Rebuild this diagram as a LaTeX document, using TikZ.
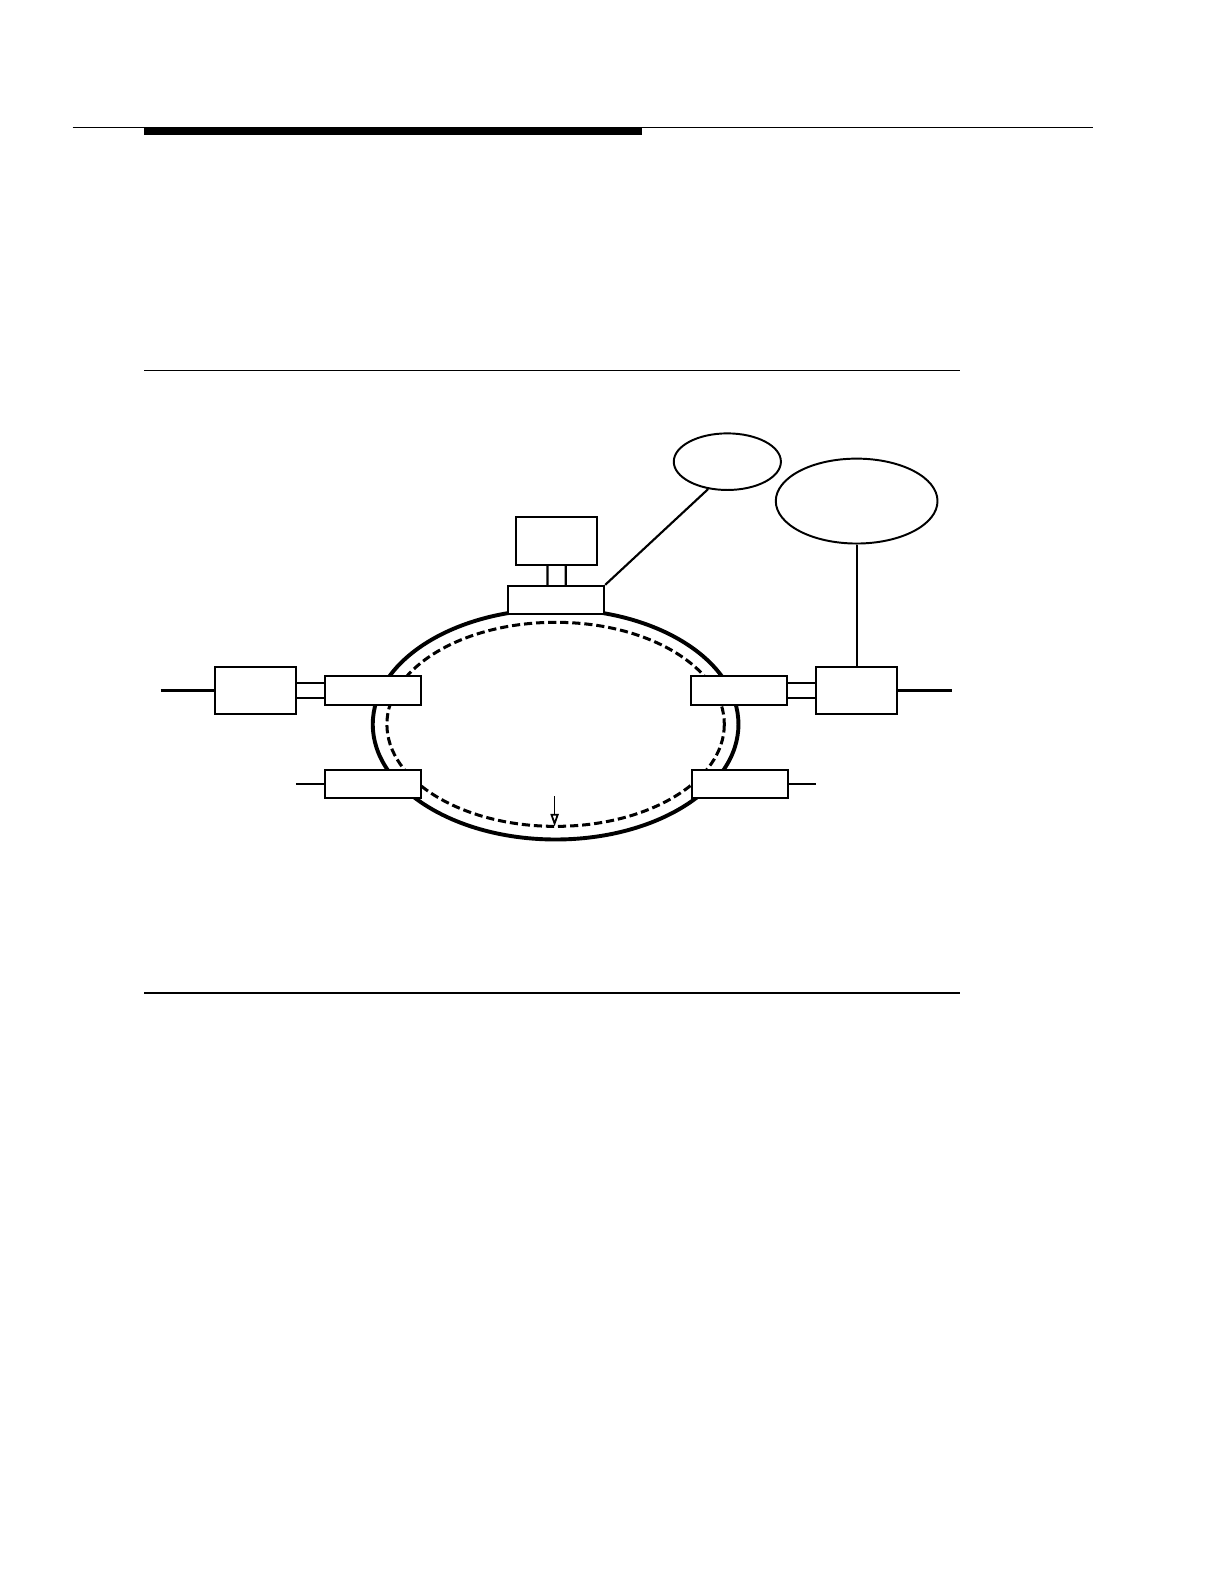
\documentclass[tikz,border=0pt]{standalone}
\usetikzlibrary{arrows.meta,shapes.geometric}

\begin{document}
\begin{tikzpicture}[x=0.01cm,y=-0.01cm]
      \useasboundingbox (0,0) rectangle (1212,1568);
      \tikzstyle{box}=[draw,fill=white,line width=0.6pt,inner sep=0pt,minimum width=0.8cm,minimum height=0.47cm]
      \tikzstyle{ringbox}=[box,minimum width=0.95cm,minimum height=0.28cm]
      \tikzstyle{bubble}=[draw,ellipse,line width=0.55pt,inner sep=0pt]
      \tikzstyle{wire}=[line width=0.6pt]
      % page rules
      \draw[line width=0.4pt] (72,126) -- (1082,126);
      \fill (143,126) rectangle (636,134);
      \draw[line width=0.4pt] (143,367) -- (950,367);
      \draw[line width=0.4pt] (143,983) -- (950,983);
      % ring
      \draw[line width=1.1pt] (550,717) ellipse (181 and 114);
      \draw[line width=0.85pt,dash pattern=on 2.3pt off 1.1pt] (550,717) ellipse (167 and 101);
      \coordinate (a1) at (549,788);
      \coordinate (a2) at (549,818);
      \draw[line width=0.5pt,-{Triangle[open,width=2.3pt,length=3.5pt]}] (a1) -- (a2);
      % nodes
      \node[box] (top) at (551,535.5) {};
      \node[ringbox] (tring) at (550.5,594) {};
      \node[ringbox] (lring) at (369,683.5) {};
      \node[ringbox] (rring) at (731.5,683.5) {};
      \node[ringbox] (llow) at (369,776) {};
      \node[ringbox] (rlow) at (732.5,776) {};
      \node[box] (lbox) at (253,683.5) {};
      \node[box] (rbox) at (848,683.5) {};
      \node[bubble,minimum width=1.06cm,minimum height=0.56cm] (small) at (720,457) {};
      \node[bubble,minimum width=1.6cm,minimum height=0.84cm] (big) at (848,496) {};
      \coordinate (lend) at (159,683.5);
      \coordinate (rend) at (942,683.5);
      \coordinate (llend) at (293,776);
      \coordinate (rlend) at (808,776);
      % connectors
      \draw[wire] ([xshift=-0.09cm]top.south) -- ([xshift=-0.085cm]tring.north);
      \draw[wire] ([xshift=0.09cm]top.south) -- ([xshift=0.095cm]tring.north);
      \foreach \s in {0.07,-0.07} {
        \draw[wire] ([yshift=\s cm]lbox.east) -- ([yshift=\s cm]lring.west);
        \draw[wire] ([yshift=\s cm]rring.east) -- ([yshift=\s cm]rbox.west);
      }
      \draw[wire] (lend) -- (lbox.west);
      \draw[wire] (rbox.east) -- (rend);
      \draw[wire] (llend) -- (llow.west);
      \draw[wire] (rlow.east) -- (rlend);
      \draw[wire] (tring.north east) -- (small.235);
      \draw[wire] (big.south) -- (rbox.north);
\end{tikzpicture}
\end{document}
